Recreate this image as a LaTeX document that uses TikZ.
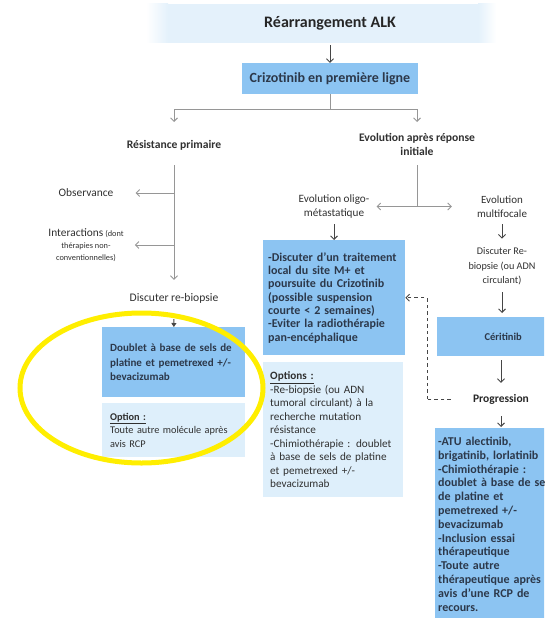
\documentclass[tikz,border=0pt]{standalone}
\usepackage{fontspec}
\setmainfont{Carlito}
\usetikzlibrary{arrows.meta,calc}

\definecolor{boxblue}{RGB}{140,196,242}
\definecolor{boxlight}{RGB}{222,239,251}
\definecolor{band}{RGB}{228,241,251}
\definecolor{ink}{RGB}{44,56,74}
\definecolor{plain}{RGB}{48,48,48}
\definecolor{darkline}{RGB}{70,70,70}
\definecolor{lightline}{RGB}{150,150,150}
\definecolor{marker}{RGB}{255,238,0}

\tikzset{
  lbl/.style={inner sep=0pt, align=center, text=plain},
  bluebox/.style={fill=boxblue, draw=none, text=ink, align=left},
  lightbox/.style={fill=boxlight, draw=none, text=plain, align=left},
  darr/.style={draw=darkline, line width=0.9pt, -{Straight Barb[length=3.5pt,width=7pt]}},
  larr/.style={draw=lightline, line width=0.9pt, -{Straight Barb[length=3.5pt,width=7pt]}},
  lline/.style={draw=lightline, line width=0.9pt},
  dshd/.style={draw=darkline, line width=0.9pt, dash pattern=on 3.5pt off 3pt},
}

\begin{document}
\begin{tikzpicture}[x=1pt,y=-1pt]
\useasboundingbox (0,0) rectangle (544,618);
\clip (0,0) rectangle (544,618);

% soft title band
\shade[left color=white, right color=band] (146,4) rectangle (168,43);
\fill[band] (168,4) rectangle (478,43);
\shade[left color=band, right color=white] (478,4) rectangle (496,43);

% ---- top ----
\node[lbl, text=black!85, font=\fontsize{16}{18}\selectfont\bfseries] (title) at (330,23) {Réarrangement ALK};
\node[bluebox, minimum width=176pt, minimum height=31pt, align=center,
      font=\fontsize{14}{16}\selectfont\bfseries] (crizo) at (330,78.5) {Crizotinib en première ligne};
\draw[darr, shorten <=15pt] (title) -- (crizo);

\node[lbl, font=\fontsize{11.6}{14}\selectfont\bfseries] (resist) at (174,145) {Résistance primaire};
\node[lbl, font=\fontsize{11.6}{14}\selectfont\bfseries] (evo) at (417,144) {Evolution après réponse\\initiale};

\coordinate (bj) at (330,109);
\coordinate (restip) at (174,122);
\coordinate (evotip) at (417,122);
\draw[lline] (crizo.south) -- (bj);
\draw[larr] (bj) -| (restip);
\draw[larr] (bj) -| (evotip);

% ---- primary resistance branch ----
\node[lbl, font=\fontsize{11.4}{14}\selectfont] (obs) at (86,193) {Observance};
\node[lbl, font=\fontsize{8.3}{12}\selectfont] (inter) at (86,245)
  {{\fontsize{11.4}{12}\selectfont Interactions} (dont\\thérapies non-\\conventionnelles)};
\node[lbl, font=\fontsize{11.6}{14}\selectfont] (biop) at (174,298) {Discuter re-biopsie};

\draw[larr, shorten <=15pt, shorten >=13pt] (resist) -- (biop);
\coordinate (obsj) at (174,193);
\coordinate (interj) at (174,245);
\draw[larr, shorten >=22pt] (obsj) -- (obs);
\draw[larr, shorten >=11pt] (interj) -- (inter.east);

\node[bluebox, anchor=north west, inner xsep=8pt, text width=127pt, minimum height=70pt,
      font=\fontsize{11}{14.5}\selectfont\bfseries] (dbl) at (102,327)
  {Doublet à base de sels de\\platine et pemetrexed +/-\\bevacizumab};
\node[lightbox, anchor=north west, inner xsep=8pt, text width=127pt, minimum height=54pt,
      font=\fontsize{10.3}{13.5}\selectfont] (opt1) at (102,403)
  {\textbf{\underline{Option :}}\\Toute autre molécule après\\avis RCP};
\draw[darr, -{Triangle[length=4pt,width=5pt]}, shorten <=16pt] (biop) -- (dbl);

% ---- progression after initial response ----
\node[lbl, font=\fontsize{11.2}{13.5}\selectfont] (oligo) at (334,206.5) {Evolution oligo-\\métastatique};
\node[lbl, font=\fontsize{11}{13.5}\selectfont] (multi) at (502,206.5) {Evolution\\multifocale};
\coordinate (evoj) at (417,206.5);
\draw[lline, shorten <=10pt] (evo) -- (evoj);
\draw[larr, shorten >=7pt] (evoj) -- (oligo);
\draw[larr, shorten >=25pt] (evoj) -- (multi);

\node[bluebox, anchor=north west, inner xsep=5pt, text width=132pt, minimum height=115pt,
      font=\fontsize{12}{13.35}\selectfont\bfseries] (local) at (263,240)
  {-Discuter d'un traitement\\local du site M+ et\\poursuite du Crizotinib\\(possible suspension\\courte < 2 semaines)\\-Eviter la radiothérapie\\pan-encéphalique};
\draw[darr, shorten <=6pt] (oligo.south) -- (oligo.south |- local.north);

\node[lightbox, anchor=north west, inner xsep=7pt, text width=126pt, minimum height=135pt,
      font=\fontsize{11.2}{13.5}\selectfont] (opts) at (263,362)
  {\textbf{\underline{Options :}}\\-Re-biopsie (ou ADN\\tumoral circulant) à la\\recherche mutation\\résistance\\-Chimiothérapie : doublet\\à base de sels de platine\\et pemetrexed +/-\\bevacizumab};

\node[lbl, font=\fontsize{10.2}{14.5}\selectfont] (rebio) at (502,266.5) {Discuter Re-\\biopsie (ou ADN\\circulant)};
\draw[darr, shorten <=7pt, shorten >=9pt] (multi) -- (rebio);

\node[bluebox, anchor=north west, minimum width=132pt, minimum height=39pt, align=center,
      font=\fontsize{10.5}{14}\selectfont\bfseries] (ceri) at (437,317) {Céritinib};
\draw[darr, shorten <=7pt, shorten >=4pt] (rebio) -- (rebio |- ceri.north);

\node[lbl, text=black!85, font=\fontsize{11.5}{14}\selectfont\bfseries] (prog) at (501,399) {Progression};
\draw[darr, shorten <=4pt, shorten >=11pt] (ceri.south -| prog) -- (prog);

\node[bluebox, anchor=north west, inner xsep=3pt, text width=126pt, minimum height=192pt,
      font=\fontsize{12}{13.8}\selectfont\bfseries] (later) at (435,428)
  {-ATU alectinib,\\brigatinib, lorlatinib\\-Chimiothérapie :\\doublet à base de sels\\de platine et\\pemetrexed +/-\\bevacizumab\\-Inclusion essai\\thérapeutique\\-Toute autre\\thérapeutique après\\avis d'une RCP de\\recours.};
\draw[darr, shorten <=12pt, shorten >=1pt] (prog) -- (prog |- later.north);

% dashed return to local treatment
\coordinate (dcorner) at (427,399);
\draw[dshd] ([xshift=-22pt]prog.west) -- (dcorner);
\draw[dshd, -{Straight Barb[length=3.5pt,width=7pt]}] (dcorner) |- (local.east);

% highlight around the primary-resistance treatment
\draw[marker, line width=5pt] (141.5,388) ellipse [x radius=121.5pt, y radius=75pt];
\end{tikzpicture}
\end{document}
